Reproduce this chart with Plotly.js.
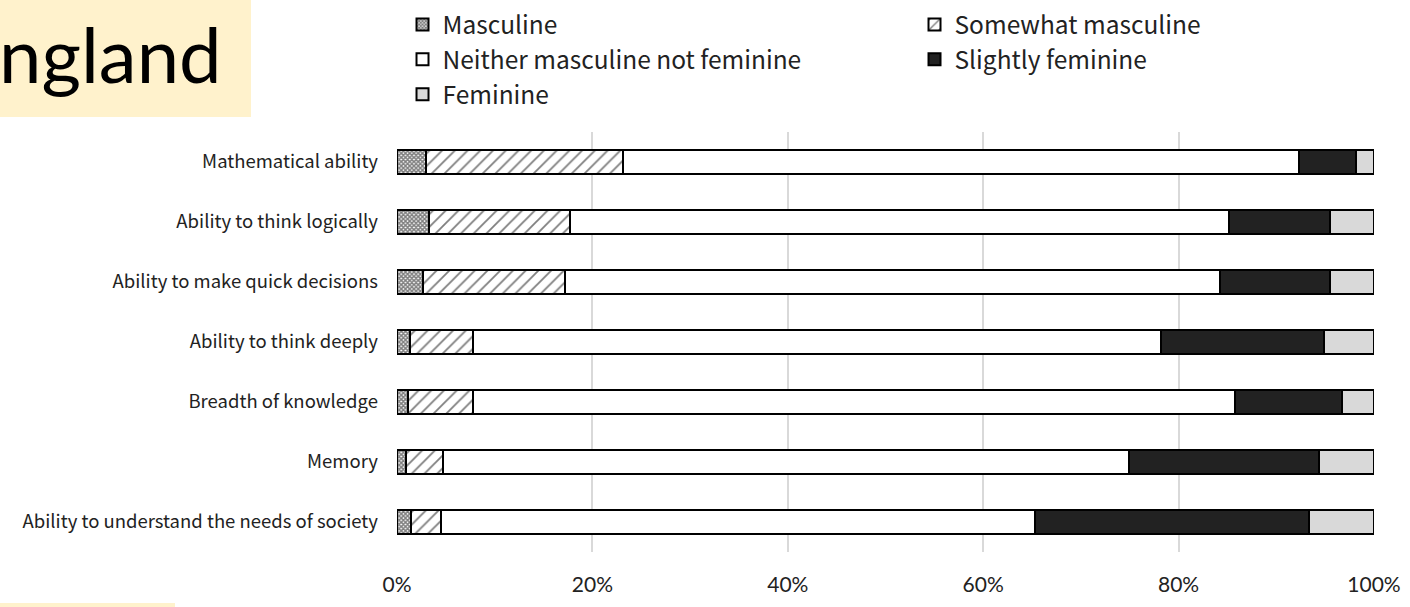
<!DOCTYPE html>
<html>
<head>
<meta charset="utf-8">
<script src="https://cdn.plot.ly/plotly-3.0.1.min.js"></script>
<style>
  html, body { margin: 0; padding: 0; background: #fff; }
  #chart { width: 1410px; height: 607px; }
</style>
</head>
<body>
<div id="chart"></div>
<script>
// Attributes, listed top to bottom
const attributes = [
  "Mathematical ability",
  "Ability to think logically",
  "Ability to make quick decisions",
  "Ability to think deeply",
  "Breadth of knowledge",
  "Memory",
  "Ability to understand the needs of society"
];

// Share of answers (%) per attribute
const masculine         = [3.0, 3.3, 2.7, 1.3, 1.1, 0.9, 1.4];
const somewhatMasculine = [20.1, 14.4, 14.5, 6.5, 6.7, 3.8, 3.1];
const neither           = [69.2, 67.5, 67.0, 70.4, 78.0, 70.2, 60.8];
const slightlyFeminine  = [5.9, 10.3, 11.3, 16.7, 10.9, 19.5, 28.0];
const feminine          = [1.8, 4.5, 4.5, 5.1, 3.3, 5.6, 6.7];

const seriesNames = [
  "Masculine",
  "Somewhat masculine",
  "Neither masculine not feminine",
  "Slightly feminine",
  "Feminine"
];

const xTicks = [0, 20, 40, 60, 80, 100];
const xTickText = ["0%", "20%", "40%", "60%", "80%", "100%"];

const outline = { color: "#000000", width: 2 };

function barTrace(name, values, fill, pattern) {
  const marker = { color: fill, line: outline };
  if (pattern) marker.pattern = pattern;
  return {
    type: "bar",
    orientation: "h",
    name: name,
    x: values,
    y: attributes,
    width: 0.4,
    marker: marker,
    hoverinfo: "skip"
  };
}

const traces = [
  barTrace(seriesNames[0], masculine, "#ffffff",
    { shape: "x", size: 3, solidity: 0.75, fgcolor: "#000000", bgcolor: "#ffffff", fillmode: "overlay" }),
  barTrace(seriesNames[1], somewhatMasculine, "#ffffff",
    { shape: "/", size: 9, solidity: 0.2, fgcolor: "#000000", bgcolor: "#ffffff", fillmode: "overlay" }),
  barTrace(seriesNames[2], neither, "#ffffff"),
  barTrace(seriesNames[3], slightlyFeminine, "#222222"),
  barTrace(seriesNames[4], feminine, "#d9d9d9")
];

// Plot area in pixels: left 397, right 1374, top 132, bottom 552
const L = 397, R = 1374, T = 132, B = 552;
const px = v => (v - L) / (R - L);
const py = v => (B - v) / (B - T);

const layout = {
  width: 1410,
  height: 607,
  margin: { l: L, r: 1410 - R, t: T, b: 607 - B, pad: 0, autoexpand: false },
  paper_bgcolor: "#ffffff",
  plot_bgcolor: "#ffffff",
  barmode: "stack",
  showlegend: true,
  legend: {
    orientation: "h",
    x: -0.0005,
    xanchor: "left",
    y: py(-4),
    yanchor: "top",
    entrywidth: 467,
    entrywidthmode: "pixels",
    traceorder: "normal",
    borderwidth: 6,
    bordercolor: "rgba(0,0,0,0)",
    font: { family: "Noto Sans CJK JP", size: 24.5, color: "#222222" },
    bgcolor: "rgba(0,0,0,0)"
  },
  xaxis: {
    range: [0, 100],
    tickvals: xTicks,
    ticktext: xTickText,
    showgrid: true,
    gridcolor: "#d9d9d9",
    gridwidth: 2,
    zeroline: false,
    showline: false,
    ticks: "",
    ticklabelstandoff: 18,
    tickfont: { family: "Lato", size: 21, color: "#222222" },
    fixedrange: true
  },
  yaxis: {
    type: "category",
    autorange: "reversed",
    showgrid: false,
    zeroline: false,
    showline: false,
    ticks: "",
    ticklabelstandoff: 18,
    tickfont: { family: "Noto Sans CJK JP", size: 18.5, color: "#222222" },
    fixedrange: true
  },
  shapes: [
    { type: "rect", xref: "paper", yref: "paper", layer: "below",
      x0: px(-5), x1: px(251), y0: py(117), y1: py(-5),
      fillcolor: "#fff2cc", line: { width: 0 } },
    { type: "rect", xref: "paper", yref: "paper", layer: "below",
      x0: px(-5), x1: px(175), y0: py(612), y1: py(603),
      fillcolor: "#fff2cc", line: { width: 0 } }
  ],
  annotations: [
    { text: "ngland", xref: "paper", yref: "paper",
      x: px(224), xanchor: "right", y: py(53), yanchor: "middle",
      showarrow: false,
      font: { family: "Lato", size: 76, color: "#000000" } }
  ]
};

Plotly.newPlot("chart", traces, layout, { staticPlot: true, displayModeBar: false });
</script>
</body>
</html>
